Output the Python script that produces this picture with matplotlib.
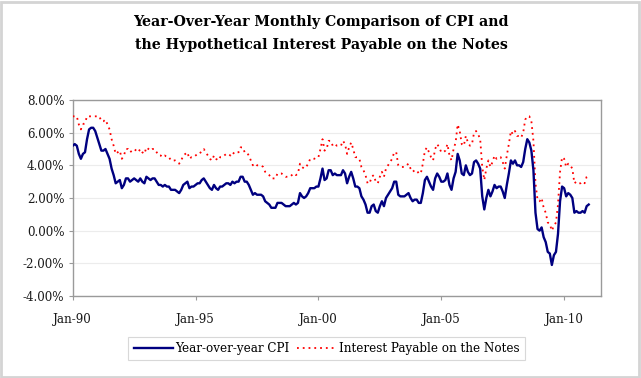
import matplotlib
matplotlib.use("Agg")
import matplotlib.pyplot as plt
import matplotlib.patches as patches
from matplotlib.ticker import FuncFormatter, FixedLocator

# Monthly data, Jan-1990 .. Jan-2011 (percent)
cpi = [
    5.2, 5.3, 5.2, 4.7, 4.4, 4.7, 4.8, 5.6, 6.2, 6.3, 6.3, 6.1,
    5.7, 5.3, 4.9, 4.9, 5.0, 4.7, 4.4, 3.8, 3.4, 2.9, 3.0, 3.1,
    2.6, 2.8, 3.2, 3.2, 3.0, 3.1, 3.2, 3.1, 3.0, 3.2, 3.0, 2.9,
    3.3, 3.2, 3.1, 3.2, 3.2, 3.0, 2.8, 2.8, 2.7, 2.8, 2.7, 2.7,
    2.5, 2.5, 2.5, 2.4, 2.3, 2.5, 2.8, 2.9, 3.0, 2.6, 2.7, 2.7,
    2.8, 2.9, 2.9, 3.1, 3.2, 3.0, 2.8, 2.6, 2.5, 2.8, 2.6, 2.5,
    2.7, 2.7, 2.8, 2.9, 2.9, 2.8, 3.0, 2.9, 3.0, 3.0, 3.3, 3.3,
    3.0, 3.0, 2.8, 2.5, 2.2, 2.3, 2.2, 2.2, 2.2, 2.1, 1.8, 1.7,
    1.6, 1.4, 1.4, 1.4, 1.7, 1.7, 1.7, 1.6, 1.5, 1.5, 1.5, 1.6,
    1.7, 1.6, 1.7, 2.3, 2.1, 2.0, 2.1, 2.3, 2.6, 2.6, 2.6, 2.7,
    2.7, 3.2, 3.8, 3.1, 3.2, 3.7, 3.7, 3.4, 3.5, 3.4, 3.4, 3.4,
    3.7, 3.5, 2.9, 3.3, 3.6, 3.2, 2.7, 2.7, 2.6, 2.1, 1.9, 1.6,
    1.1, 1.1, 1.5, 1.6, 1.2, 1.1, 1.5, 1.8, 1.5, 2.0, 2.2, 2.4,
    2.6, 3.0, 3.0, 2.2, 2.1, 2.1, 2.1, 2.2, 2.3, 2.0, 1.8, 1.9,
    1.9, 1.7, 1.7, 2.3, 3.1, 3.3, 3.0, 2.7, 2.5, 3.2, 3.5, 3.3,
    3.0, 3.0, 3.1, 3.5, 2.8, 2.5, 3.2, 3.6, 4.7, 4.3, 3.5, 3.4,
    4.0, 3.6, 3.4, 3.5, 4.2, 4.3, 4.1, 3.8, 2.1, 1.3, 2.0, 2.5,
    2.1, 2.4, 2.8, 2.6, 2.7, 2.7, 2.4, 2.0, 2.8, 3.5, 4.3, 4.1,
    4.3, 4.0, 4.0, 3.9, 4.2, 5.0, 5.6, 5.4, 4.9, 3.7, 1.1, 0.1,
    0.0, 0.2, -0.4, -0.7, -1.3, -1.4, -2.1, -1.5, -1.3, -0.2, 1.8, 2.7,
    2.6, 2.1, 2.3, 2.2, 2.0, 1.1, 1.2, 1.1, 1.1, 1.2, 1.1, 1.5,
    1.6,
]

interest = [
    7.0, 7.0, 7.0, 6.5, 6.2, 6.5, 6.6, 7.0, 7.0, 7.0, 7.0, 7.0,
    7.0, 7.0, 6.7, 6.7, 6.8, 6.5, 6.2, 5.6, 5.2, 4.7, 4.8, 4.9,
    4.4, 4.6, 5.0, 5.0, 4.8, 4.9, 5.0, 4.9, 4.8, 5.0, 4.8, 4.7,
    5.1, 5.0, 4.9, 5.0, 5.0, 4.8, 4.6, 4.6, 4.5, 4.6, 4.5, 4.5,
    4.3, 4.3, 4.3, 4.2, 4.1, 4.3, 4.6, 4.7, 4.8, 4.4, 4.5, 4.5,
    4.6, 4.7, 4.7, 4.9, 5.0, 4.8, 4.6, 4.4, 4.3, 4.6, 4.4, 4.3,
    4.5, 4.5, 4.6, 4.7, 4.7, 4.6, 4.8, 4.7, 4.8, 4.8, 5.1, 5.1,
    4.8, 4.8, 4.6, 4.3, 4.0, 4.1, 4.0, 4.0, 4.0, 3.9, 3.6, 3.5,
    3.4, 3.2, 3.2, 3.2, 3.5, 3.5, 3.5, 3.4, 3.3, 3.3, 3.3, 3.4,
    3.5, 3.4, 3.5, 4.1, 3.9, 3.8, 3.9, 4.1, 4.4, 4.4, 4.4, 4.5,
    4.5, 5.0, 5.6, 4.9, 5.0, 5.5, 5.5, 5.2, 5.3, 5.2, 5.2, 5.2,
    5.5, 5.3, 4.7, 5.1, 5.4, 5.0, 4.5, 4.5, 4.4, 3.9, 3.7, 3.4,
    2.9, 2.9, 3.3, 3.4, 3.0, 2.9, 3.3, 3.6, 3.3, 3.8, 4.0, 4.2,
    4.4, 4.8, 4.8, 4.0, 3.9, 3.9, 3.9, 4.0, 4.1, 3.8, 3.6, 3.7,
    3.7, 3.5, 3.5, 4.1, 4.9, 5.1, 4.8, 4.5, 4.3, 5.0, 5.3, 5.1,
    4.8, 4.8, 4.9, 5.3, 4.6, 4.3, 5.0, 5.4, 6.5, 6.1, 5.3, 5.2,
    5.8, 5.4, 5.2, 5.3, 6.0, 6.1, 5.9, 5.6, 3.9, 3.1, 3.8, 4.3,
    3.9, 4.2, 4.6, 4.4, 4.5, 4.5, 4.2, 3.8, 4.6, 5.3, 6.1, 5.9,
    6.1, 5.8, 5.8, 5.7, 6.0, 6.8, 7.0, 7.0, 6.7, 5.5, 2.9, 1.9,
    1.8, 2.0, 1.4, 1.1, 0.5, 0.4, 0.0, 0.3, 0.5, 1.6, 3.6, 4.5,
    4.4, 3.9, 4.1, 4.0, 3.8, 2.9, 3.0, 2.9, 2.9, 3.0, 2.9, 3.3,
    3.4,
]

x_tick_labels = ["Jan-90", "Jan-95", "Jan-00", "Jan-05", "Jan-10"]
y_ticks = [-4, -2, 0, 2, 4, 6, 8]
title_lines = ["Year-Over-Year Monthly Comparison of CPI and",
               "the Hypothetical Interest Payable on the Notes"]
series_names = ["Year-over-year CPI", "Interest Payable on the Notes"]

plt.rcParams['font.family'] = ['DejaVu Serif']

W, H = 641, 378
fig = plt.figure(figsize=(W / 100, H / 100), dpi=100)
fig.patch.set_facecolor('white')

# outer chart border
fig.add_artist(patches.Rectangle((1 / W, 1 / H), (W - 3) / W, (H - 3) / H,
                                 transform=fig.transFigure, fill=False,
                                 edgecolor='#d4d4d4', linewidth=2.0))

ax = fig.add_axes([72.7 / W, 1 - 296 / H, (601 - 72.7) / W, (296 - 100) / H])

months = list(range(len(cpi)))
ax.plot(months, interest, color='#ff0000', linewidth=1.3,
        linestyle=(0, (1, 2.2)), label=series_names[1], zorder=3)
ax.plot(months, cpi, color='#000080', linewidth=1.7,
        label=series_names[0], zorder=4)

ax.set_xlim(0, 258)
ax.set_ylim(-4, 8)
ax.set_yticks(y_ticks)
ax.yaxis.set_major_formatter(FuncFormatter(lambda v, p: f"{v:.2f}%"))
ax.xaxis.set_major_locator(FixedLocator([0, 60, 120, 180, 240]))
ax.set_xticklabels(x_tick_labels)

ax.grid(axis='y', color='#ececec', linewidth=0.8)
ax.set_axisbelow(True)
for s in ax.spines.values():
    s.set_color('#9a9a9a')
    s.set_linewidth(1.0)
ax.tick_params(axis='both', colors='#9a9a9a', labelcolor='#1a1a1a',
               labelsize=8.6, length=3, width=0.8)
ax.tick_params(axis='x', pad=9)
ax.tick_params(axis='y', pad=3)

fig.text(321 / W, 1 - 22 / H, title_lines[0], ha='center', va='center',
         fontsize=10.2, fontweight='bold', color='black')
fig.text(321 / W, 1 - 45 / H, title_lines[1], ha='center', va='center',
         fontsize=10.2, fontweight='bold', color='black')

h, l = ax.get_legend_handles_labels()
leg = fig.legend([h[1], h[0]], [l[1], l[0]], loc='center',
                 bbox_to_anchor=(326.5 / W, 1 - 348.5 / H), ncol=2,
                 fontsize=8.6, frameon=True, fancybox=False,
                 handlelength=3.3, handletextpad=0.2, columnspacing=0.6,
                 borderpad=0.45)
leg.get_frame().set_edgecolor('#cfcfcf')
leg.get_frame().set_linewidth(0.8)

fig.savefig('out.png', dpi=100, facecolor='white')
